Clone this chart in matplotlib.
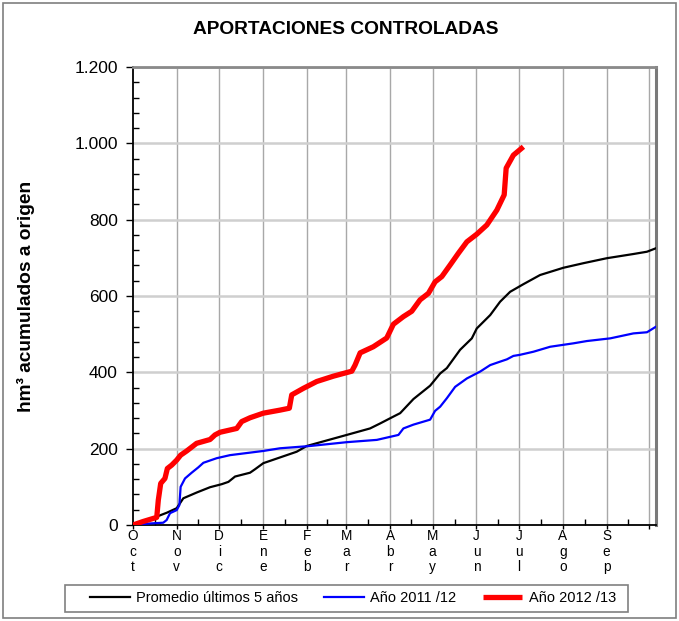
import matplotlib
matplotlib.use("Agg")
import matplotlib.pyplot as plt
from matplotlib.patches import Rectangle
from matplotlib.ticker import FixedLocator, MultipleLocator, FuncFormatter

plt.rcParams['font.family'] = ['Liberation Sans', 'DejaVu Sans']

# Hydrological year, days counted from 1 October
month_labels = ["Oct", "Nov", "Dic", "Ene", "Feb", "Mar", "Abr", "May", "Jun", "Jul", "Ago", "Sep"]
month_days = [31, 30, 31, 31, 28, 31, 30, 31, 30, 31, 31, 30]

# Promedio últimos 5 años (hm³ acumulados)
avg_day = [0, 7.3, 16.8, 23.8, 30.9, 35.6, 45, 54.5, 62.8, 67.5, 72.2, 82.8, 86.3, 92.2,
           104, 115.8, 122.9, 151.2, 167.7, 174.8, 184.2, 189, 198.4, 210.2, 217.3, 222,
           231.4, 239.7, 243.2, 252.7, 259.7, 266.8, 276.2, 288, 304.5, 318.7, 335.2,
           354, 363.6, 370.6]
avg_val = [0, 9, 22, 32, 44, 70, 85, 99, 107, 113, 127, 137, 146, 162,
           177, 192, 207, 236, 253, 266, 284, 293, 330, 365, 397, 411,
           459, 489, 515, 550, 585, 611, 631, 655, 674, 686, 699,
           710, 716, 726]

# Año 2011/12
y1112_day = [0, 12, 21.4, 23.8, 26.2, 30.9, 32.8, 33.7, 36.8, 41.5, 46.2, 49.8, 59.2,
             68.6, 92.2, 104, 125.3, 151.2, 172.5, 187.8, 191.3, 198.4, 210.2, 213.7,
             217.3, 222, 227.9, 236.2, 245.6, 252.7, 259.7, 264.5, 269.1, 273.9, 283.3,
             295.1, 311.6, 321.1, 337.6, 354, 363.6, 370.6]
y1112_val = [0, 4, 6, 13, 31, 39, 52, 100, 122, 137, 151, 163, 175,
             183, 194, 201, 207, 217, 223, 236, 253, 263, 276, 299,
             310, 332, 362, 384, 402, 419, 428, 434, 443, 446, 454,
             467, 476, 482, 489, 502, 505, 521]

# Año 2012/13
y1213_day = [0, 7, 16.8, 17.9, 19.6, 22.6, 24.3, 27.4, 30.9, 33.7, 38, 45, 54.5, 58,
             61.6, 73.4, 76.9, 82.8, 92.2, 104, 110.6, 112.3, 120.5, 130, 141.8, 154.8,
             157.1, 160.7, 170, 179.5, 184.2, 191.3, 197.2, 203.1, 209, 213.7, 218.5,
             224.3, 230.2, 236.2, 243.2, 250.3, 257.4, 262.6, 264, 269.1, 276.2]
y1213_val = [0, 9, 20, 65, 109, 122, 148, 157, 170, 183, 194, 214, 224, 236,
             243, 253, 271, 281, 293, 301, 306, 341, 358, 376, 390, 403,
             419, 451, 467, 490, 526, 546, 560, 590, 607, 637, 651,
             681, 712, 742, 762, 786, 825, 865, 935, 969, 991]

month_start = [0]
for d in month_days:
    month_start.append(month_start[-1] + d)
month_mid = [(month_start[i] + month_start[i + 1]) / 2 for i in range(12)]

W, H = 679, 621
fig = plt.figure(figsize=(W / 100, H / 100), dpi=100)
ax = fig.add_axes([133 / W, 1 - 525 / H, (656 - 133) / W, (525 - 67) / H])

ax.plot(avg_day, avg_val, color="black", lw=1.6, label="Promedio últimos 5 años", zorder=3)
ax.plot(y1112_day, y1112_val, color="#0000ff", lw=1.6, label="Año 2011 /12", zorder=3)
ax.plot(y1213_day, y1213_val, color="#ff0000", lw=3.8, label="Año 2012 /13",
        solid_capstyle="butt", zorder=4)

ax.set_xlim(0, 370)
ax.set_ylim(0, 1200)

# grid
for x in month_start[1:]:
    ax.axvline(x, color="#a8a8a8", lw=1.0, zorder=1)
for y in range(200, 1201, 200):
    ax.axhline(y, color="#cfcfcf", lw=1.8, zorder=1)

# y axis
ax.yaxis.set_major_locator(MultipleLocator(200))
ax.yaxis.set_minor_locator(MultipleLocator(40))
ax.yaxis.set_major_formatter(FuncFormatter(lambda v, p: f"{v:,.0f}".replace(",", ".")))
ax.tick_params(axis="y", which="major", direction="out", length=5, width=1, labelsize=12.5, pad=6)
ax.tick_params(axis="y", which="minor", direction="in", length=4, width=1)

# x axis: month boundaries and mid-month marks
ax.xaxis.set_major_locator(FixedLocator(month_start))
ax.xaxis.set_minor_locator(FixedLocator(month_mid))
ax.set_xticklabels([])
ax.tick_params(axis="x", which="major", direction="out", length=3, width=1)
ax.tick_params(axis="x", which="minor", direction="in", length=4, width=1)

for x, lab in zip(month_start[:12], month_labels):
    ax.text(x, -11, "\n".join(lab), ha="center", va="top", fontsize=9.8,
            linespacing=1.12, transform=ax.transData)

for side in ["left", "bottom"]:
    ax.spines[side].set_color("black")
    ax.spines[side].set_linewidth(1.3)
ax.spines["top"].set_color("#8a8a8a")
ax.spines["top"].set_linewidth(2)
ax.spines["right"].set_color("#7a7a7a")
ax.spines["right"].set_linewidth(2.2)

ax.set_ylabel("hm³ acumulados a origen", fontsize=13.8, fontweight="bold")
ax.yaxis.set_label_coords(-98 / (656 - 133), 0.5)

fig.text(346 / W, 1 - 30 / H, "APORTACIONES CONTROLADAS", ha="center", va="center",
         fontsize=13.8, fontweight="bold")

# legend row below the plot, inside its own box
leg = fig.legend(loc="center", bbox_to_anchor=(353 / W, 1 - 598 / H), ncol=3, fontsize=10.5,
                 frameon=False, handlelength=2.7, handletextpad=0.45, columnspacing=1.8,
                 borderaxespad=0, borderpad=0)
fig.patches.append(Rectangle((65 / W, 1 - 612 / H), (628 - 65) / W, 27 / H,
                             transform=fig.transFigure, fill=False,
                             edgecolor="#808080", lw=1.2))

fig.patches.append(Rectangle((3 / W, 3 / H), (W - 6) / W, (H - 6) / H, transform=fig.transFigure,
                             fill=False, edgecolor="#7f7f7f", lw=1.2))

fig.savefig("out.png", dpi=100)
